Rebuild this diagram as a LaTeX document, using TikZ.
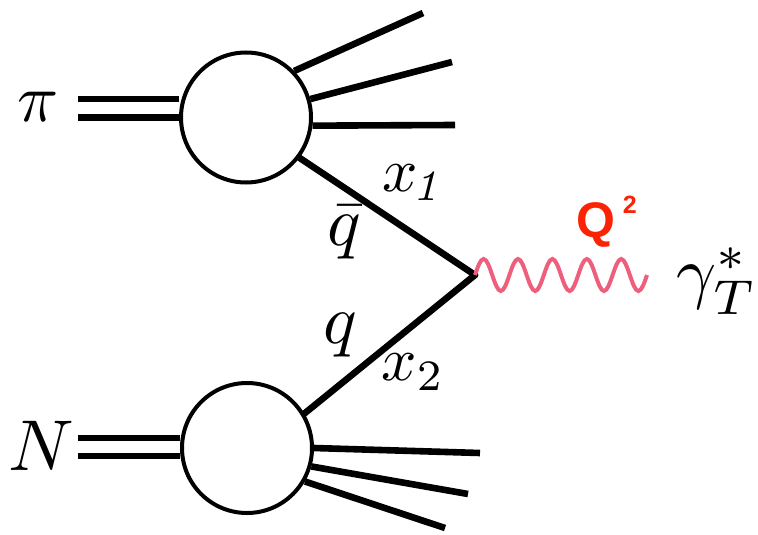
\documentclass[tikz,border=0pt]{standalone}
\usepackage{fontspec}
\newfontfamily\qfont{Liberation Sans}
\definecolor{qred}{RGB}{252,35,5}
\definecolor{wavepink}{RGB}{238,95,125}
\begin{document}
\begin{tikzpicture}[x=0.5pt,y=-0.5pt,
  blob/.style={circle,draw,line width=2pt,minimum size=65pt,inner sep=0pt},
  thickline/.style={line width=3.3pt},
  photon/.style={draw=wavepink,line width=2pt},
  lbl/.style={inner sep=0pt}]
\useasboundingbox (0,0) rectangle (758,534);
% blobs
\node[blob] (pi) at (246,117.5) {};
\node[blob] (nu) at (247,448) {};
% vertex and free ends
\coordinate (v) at (475,275);
\coordinate (pa) at (78,99);
\coordinate (pb) at (78,117.5);
\coordinate (na) at (78,438);
\coordinate (nb) at (78,456);
\coordinate (t1) at (423,13);
\coordinate (t2) at (452,62);
\coordinate (t3) at (455,125);
\coordinate (b1) at (480,453);
\coordinate (b2) at (468,494);
\coordinate (b3) at (445,528);
% incoming double lines
\draw[thickline] (pa) -- (pa -| pi.west);
\draw[thickline] (pb) -- (pb -| pi.west);
\draw[thickline] (na) -- (na -| nu.west);
\draw[thickline] (nb) -- (nb -| nu.west);
% outgoing jets
\draw[thickline] (pi.44) -- (t1);
\draw[thickline] (pi.16) -- (t2);
\draw[thickline] (pi.-7) -- (t3);
\draw[thickline] (nu.0) -- (b1);
\draw[thickline] (nu.-16) -- (b2);
\draw[thickline] (nu.-30) -- (b3);
% quark lines
\draw[thickline,line cap=round] (pi.-37) -- (v);
\draw[thickline,line cap=round] (nu.31) -- (v);
% photon (5 periods)
\draw[photon] (v)
  sin ++(8.6,-16) cos ++(8.6,16) sin ++(8.6,16) cos ++(8.6,-16)
  sin ++(8.6,-16) cos ++(8.6,16) sin ++(8.6,16) cos ++(8.6,-16)
  sin ++(8.6,-16) cos ++(8.6,16) sin ++(8.6,16) cos ++(8.6,-16)
  sin ++(8.6,-16) cos ++(8.6,16) sin ++(8.6,16) cos ++(8.6,-16)
  sin ++(8.6,-16) cos ++(8.6,16) sin ++(8.6,16) cos ++(8.6,-16);
% labels
\node[lbl,scale=3.4] (lpi) at (38,107) {$\pi$};
\node[lbl,scale=3.6] (lN) at (41,446) {$N$};
\node[lbl,scale=3.1] (lx1) at (412,183) {$x_{\mkern-2mu\mathit{1}}$};
\node[lbl,scale=3.5] (lqb) at (344,232) {$\bar q$};
\node[lbl,scale=3.5] (lq) at (340,335) {$q$};
\node[lbl,scale=3.1] (lx2) at (413,372) {$x_{2}$};
\node[lbl,scale=3.5] (lg) at (717,281) {$\gamma^*_T$};
\node[lbl,anchor=base west,text=qred,scale=2.5] (lQ) at (575,237)
  {\qfont\bfseries Q\hspace{1.6pt}\raisebox{4.8pt}{\fontsize{5}{6}\selectfont 2}};
\end{tikzpicture}
\end{document}
